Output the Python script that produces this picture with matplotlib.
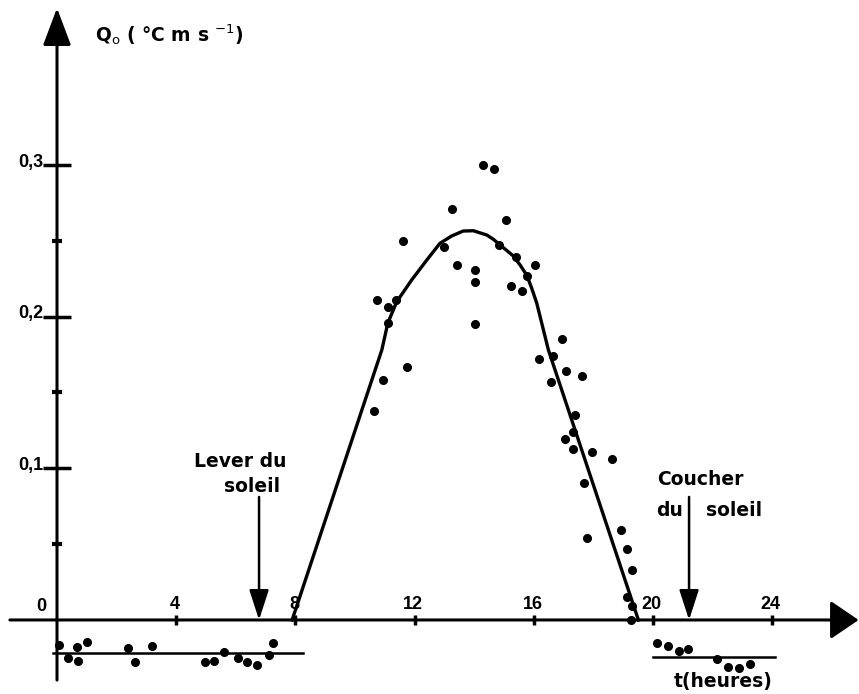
import numpy as np
import matplotlib.pyplot as plt

plt.rcParams['font.family'] = ['Liberation Sans', 'DejaVu Sans']

# mesures de jour (t en heures, Q0)
day_t = [14.29, 14.67, 13.26, 15.06, 11.62, 13.00, 14.83, 15.39, 16.03, 13.42,
         14.03, 14.03, 15.76, 15.25, 15.60, 10.73, 11.39, 11.10, 11.10, 14.03,
         16.93, 16.18, 16.63, 11.74, 10.95, 17.07, 17.63, 16.57, 10.63, 17.39,
         17.31, 17.05, 17.33, 17.95, 18.61, 17.67, 17.79, 18.92, 19.13, 19.31,
         19.14, 19.28, 19.25]
day_q = [0.300, 0.297, 0.271, 0.264, 0.250, 0.246, 0.247, 0.239, 0.234, 0.234,
         0.231, 0.223, 0.227, 0.220, 0.217, 0.211, 0.211, 0.206, 0.196, 0.195,
         0.185, 0.172, 0.174, 0.167, 0.158, 0.164, 0.161, 0.157, 0.138, 0.135,
         0.124, 0.119, 0.113, 0.111, 0.106, 0.090, 0.054, 0.059, 0.047, 0.033,
         0.015, 0.009, 0.000]

# mesures de nuit
am_t = [0.08, 0.38, 0.68, 0.69, 0.99, 2.39, 2.62, 3.20, 4.97, 5.27, 5.60, 6.06,
        6.39, 6.72, 7.10, 7.26]
am_q = [-0.0165, -0.0249, -0.0180, -0.0268, -0.0147, -0.0187, -0.0275, -0.0171,
        -0.0275, -0.0270, -0.0209, -0.0252, -0.0275, -0.0297, -0.0231, -0.0154]
pm_t = [20.12, 20.51, 20.87, 21.18, 22.16, 22.53, 22.89, 23.27]
pm_q = [-0.0154, -0.0169, -0.0202, -0.0193, -0.0259, -0.0308, -0.0314, -0.0292]

# moyennes de nuit
am_span = [-0.14, 8.25]
am_mean = -0.0220
pm_span = [20.0, 24.1]
pm_mean = -0.0242

# courbe ajustee
curve_t = [7.89, 10.90, 11.10, 11.40, 11.90, 12.41, 12.85, 13.24, 13.63, 13.97,
           14.42, 14.64, 14.87, 15.31, 15.54, 15.76, 15.93, 16.10, 16.49, 19.51]
curve_q = [0.0, 0.178, 0.1956, 0.2098, 0.2241, 0.2373, 0.2483, 0.2531, 0.2564,
           0.2566, 0.2538, 0.2510, 0.2472, 0.2400, 0.2340, 0.2274, 0.2187,
           0.2088, 0.1780, 0.0]

sunrise = 6.78
sunset = 21.21

xticks = [4, 8, 12, 16, 20, 24]
yticks_major = [0.1, 0.2, 0.3]
yticks_minor = [0.05, 0.15, 0.25]
ytick_labels = ["0,1", "0,2", "0,3"]

fig = plt.figure(figsize=(8.59, 6.94), dpi=100)
ax = fig.add_axes([0, 0, 1, 1])
ax.set_xlim(-1.913, 26.913)
ax.set_ylim(-0.0488, 0.4087)
ax.axis('off')

# axes avec fleches
ax.annotate('', xy=(26.9, 0), xytext=(-1.58, 0),
            arrowprops=dict(arrowstyle='-|>,head_length=1.25,head_width=0.85',
                            mutation_scale=14, lw=2.2, color='k',
                            shrinkA=0, shrinkB=0))
ax.annotate('', xy=(0, 0.4034), xytext=(0, -0.0396),
            arrowprops=dict(arrowstyle='-|>,head_length=1.65,head_width=0.62',
                            mutation_scale=14, lw=2.2, color='k',
                            shrinkA=0, shrinkB=0))

# graduations
ax.plot(xticks, np.zeros(len(xticks)), '|', ms=7, mew=2.5, color='k')
ax.plot(np.zeros(3), yticks_major, '_', ms=20, mew=2.5, color='k')
ax.plot(np.zeros(3), yticks_minor, '_', ms=7, mew=3, color='k')

tick_font = dict(fontsize=13, fontweight='bold', color='k')
for t in xticks:
    ax.annotate(str(t), xy=(t, 0), xytext=(-1, 11.5), textcoords='offset points',
                ha='center', va='center', **tick_font)
ax.annotate("0", xy=(0, 0), xytext=(-11, 10), textcoords='offset points',
            ha='center', va='center', **tick_font)
for q, lab in zip(yticks_major, ytick_labels):
    ax.annotate(lab, xy=(0, q), xytext=(-10, 2), textcoords='offset points',
                ha='right', va='center', **tick_font)

# donnees
ax.plot(curve_t, curve_q, color='k', lw=2.4, solid_joinstyle='round')
ax.plot(day_t, day_q, 'o', color='k', ms=5.5)
ax.plot(am_t, am_q, 'o', color='k', ms=5.5)
ax.plot(pm_t, pm_q, 'o', color='k', ms=5.5)
ax.plot(am_span, [am_mean, am_mean], color='k', lw=1.8)
ax.plot(pm_span, [pm_mean, pm_mean], color='k', lw=1.8)

# lever / coucher du soleil
sun_arrow = dict(arrowstyle='-|>,head_length=1.85,head_width=0.6',
                 mutation_scale=10, lw=1.8, color='k', shrinkA=0, shrinkB=0)
ax.annotate('', xy=(sunrise, 0), xytext=(sunrise, 0.0811), arrowprops=sun_arrow)
ax.annotate('', xy=(sunset, 0), xytext=(sunset, 0.0811), arrowprops=sun_arrow)

lab_font = dict(fontsize=13.5, fontweight='bold', color='k', ha='center',
                va='center', family='DejaVu Sans')
ax.text(6.14, 0.1044, "Lever du", **lab_font)
ax.text(6.56, 0.0879, "soleil", **lab_font)
ax.text(21.58, 0.0923, "Coucher", **lab_font)
ax.text(20.57, 0.0720, "du", **lab_font)
ax.text(22.72, 0.0720, "soleil", **lab_font)

ax.text(1.28, 0.3856, r"Q$_\mathrm{o}$ ( °C m s $^{-1}$)", fontsize=13.5,
        fontweight='bold', ha='left', va='center', family='DejaVu Sans')
ax.text(22.35, -0.0407, "t(heures)", fontsize=13.5, fontweight='bold',
        ha='center', va='center', family='DejaVu Sans')

fig.savefig("out.png", dpi=100)
